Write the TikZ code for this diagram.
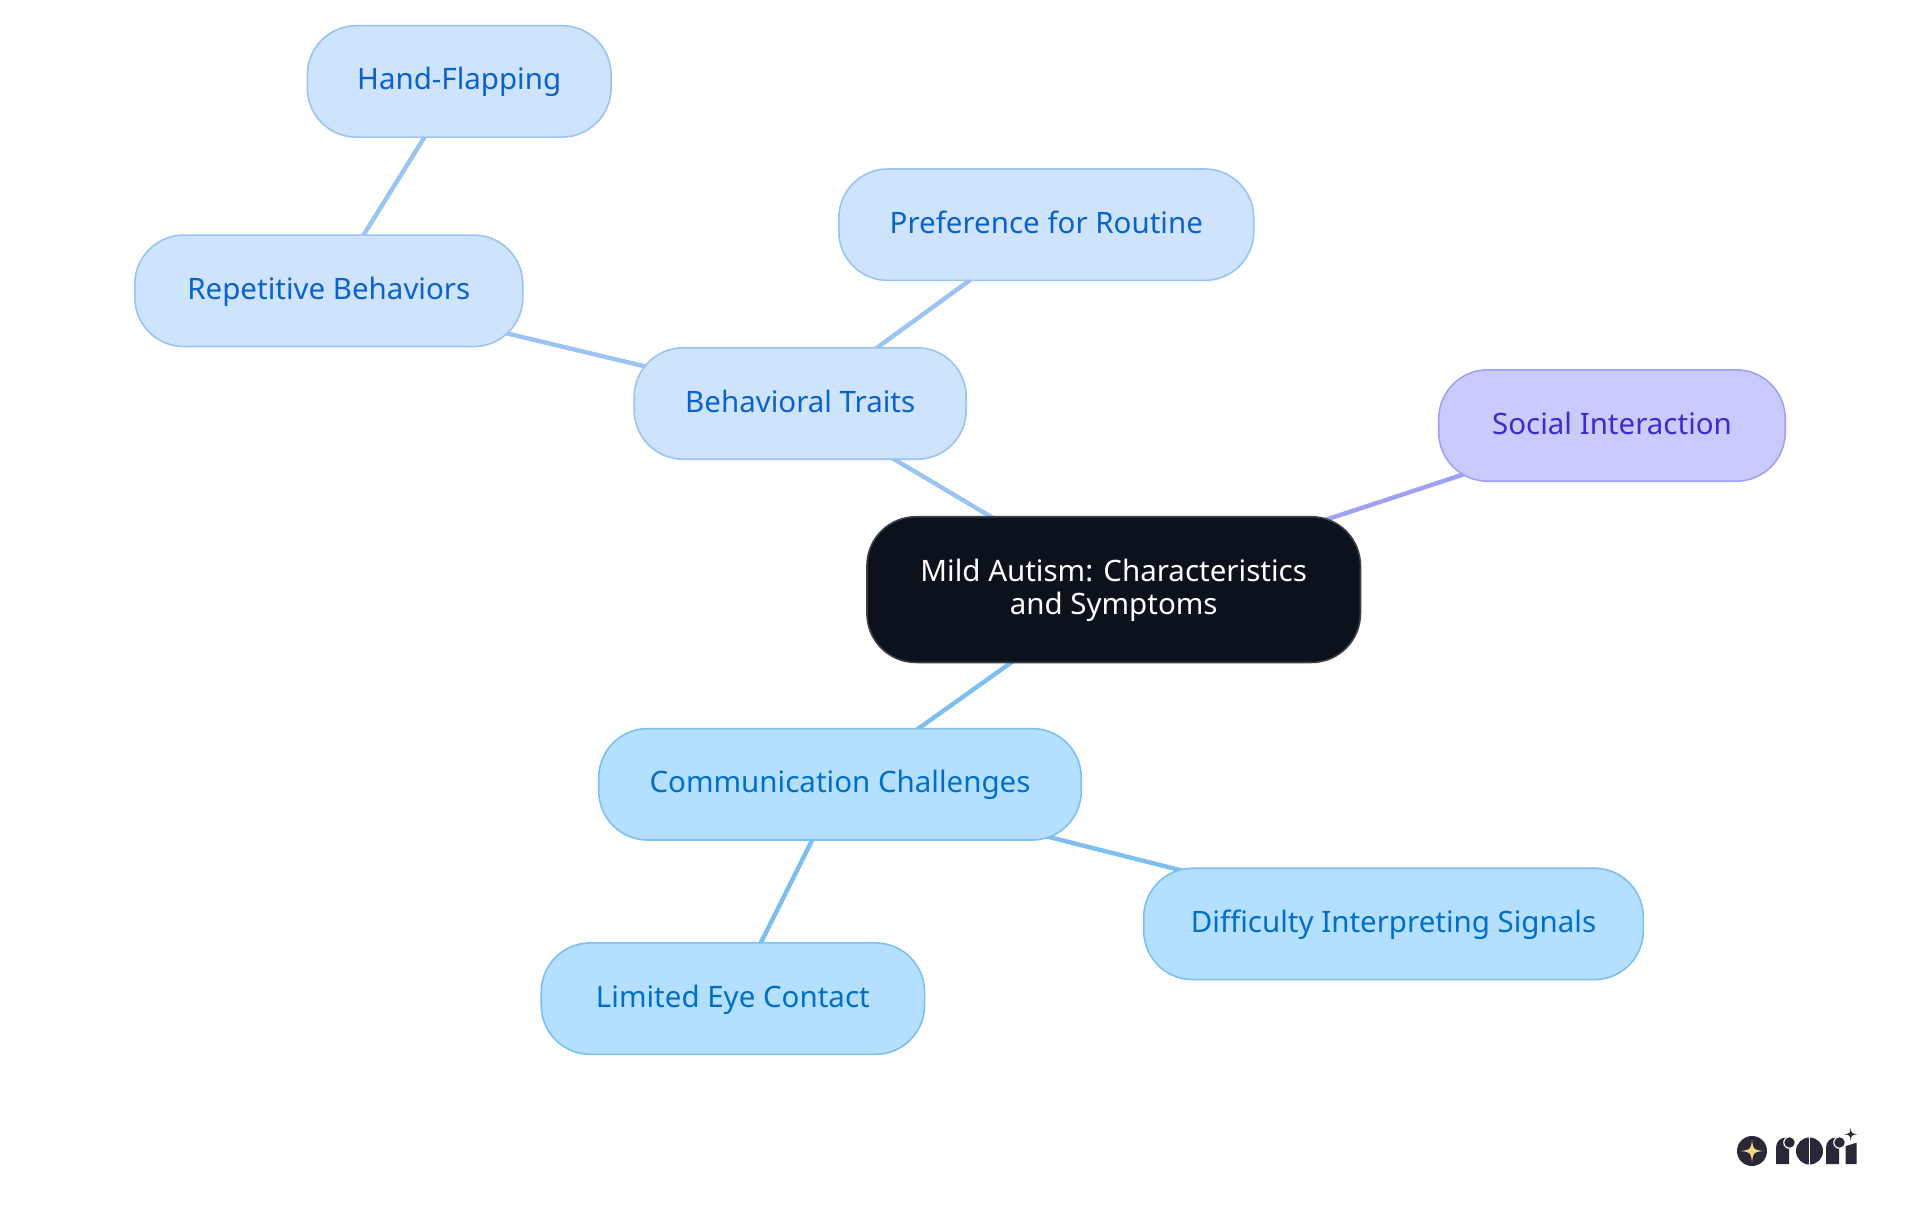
\documentclass[tikz,border=0pt]{standalone}
\usepackage{fontspec}
\setmainfont{Noto Sans}
\usetikzlibrary{backgrounds}
\definecolor{traitFill}{HTML}{CEE3FC}
\definecolor{traitLine}{HTML}{9AC4F2}
\definecolor{traitText}{HTML}{0B62CC}
\definecolor{talkFill}{HTML}{B5DFFE}
\definecolor{talkLine}{HTML}{7DBFF1}
\definecolor{talkText}{HTML}{006FC8}
\definecolor{socialFill}{HTML}{CBCAFE}
\definecolor{socialLine}{HTML}{A0A0F5}
\definecolor{socialText}{HTML}{3C2BD0}
\definecolor{rootFill}{HTML}{0B121B}
\definecolor{rootLine}{HTML}{3C4046}
\definecolor{logoDark}{HTML}{2A2838}
\definecolor{logoStar}{HTML}{F9D77E}
\newcommand{\sparkle}[4]{%
  \fill[#4] (#1,#2-#3) .. controls (#1+0.12*#3,#2-0.12*#3) .. (#1+#3,#2)
    .. controls (#1+0.12*#3,#2+0.12*#3) .. (#1,#2+#3)
    .. controls (#1-0.12*#3,#2+0.12*#3) .. (#1-#3,#2)
    .. controls (#1-0.12*#3,#2-0.12*#3) .. cycle;}
\newcommand{\logoletter}[1]{%
  \fill[logoDark] (#1,1164) -- (#1,1147.5) arc (180:270:10) -- (#1+13,1137.5) -- (#1+13,1164) -- cycle;
  \fill[white] (#1+13.5,1142.5) circle (6.3);
  \fill[logoDark] (#1+13.5,1142.5) circle (5.2);}
\begin{document}
\begin{tikzpicture}
[x=1pt,y=-1pt,
  nodeDecorate/.style={shape=rectangle,rounded corners=49pt,inner sep=0pt,line width=1.6pt,
    minimum height=111.4pt,font=\fontsize{29.5}{33}\selectfont,align=center},
  leafText/.style={text height=24pt,text depth=7pt},
  traitNode/.style={nodeDecorate,leafText,draw=traitLine,fill=traitFill,text=traitText},
  talkNode/.style={nodeDecorate,leafText,draw=talkLine,fill=talkFill,text=talkText},
  socialNode/.style={nodeDecorate,leafText,draw=socialLine,fill=socialFill,text=socialText},
  rootNode/.style={nodeDecorate,draw=rootLine,fill=rootFill,text=white,minimum height=145.7pt},
  lineDecorate/.style={line width=4.4pt}]
\useasboundingbox (0,0) rectangle (1920,1215);
%% nodes or vertices
\node (root) at (1113.7,589.6) [rootNode,minimum width=493.5pt] {\rule{0pt}{24pt}Mild Autism: Characteristics\\and Symptoms};
\foreach \nodename/\x/\y/\w/\kind/\words in {
  hand/459.2/81.4/303.7/traitNode/Hand-Flapping,
  repetitive/328.8/290.8/388/traitNode/Repetitive Behaviors,
  routine/1046.3/224.7/415/traitNode/Preference for Routine,
  behavioral/800.2/403.5/332/traitNode/Behavioral Traits,
  social/1612/425.5/346.5/socialNode/Social Interaction,
  communication/840/784.3/482.5/talkNode/Communication Challenges,
  signals/1393.5/923.9/499.6/talkNode/Difficulty Interpreting Signals,
  eye/732.9/998.6/383.3/talkNode/Limited Eye Contact}
{
  \node (\nodename) at (\x,\y) [\kind,minimum width=\w pt] {\words};
}
%% edges or lines
\begin{scope}[on background layer]
\foreach \startnode/\endnode/\shade in {
  root/behavioral/traitLine, behavioral/routine/traitLine,
  behavioral/repetitive/traitLine, repetitive/hand/traitLine,
  root/social/socialLine, root/communication/talkLine,
  communication/signals/talkLine, communication/eye/talkLine}
{
  \draw[lineDecorate,\shade] (\startnode.center) -- (\endnode.center);
}
\end{scope}
%% logo
\fill[logoDark] (1752,1151) circle (15);
\sparkle{1752}{1151}{11}{logoStar}
\logoletter{1776}
\fill[logoDark] (1809.5,1151) circle (13.5);
\fill[white] (1808.8,1136) rectangle (1810.2,1166);
\logoletter{1826}
\fill[logoDark] (1845.7,1146) -- (1856.7,1142.7) -- (1856.7,1164) -- (1845.7,1164) -- cycle;
\sparkle{1850.7}{1134.3}{6.5}{logoDark}
\end{tikzpicture}
\end{document}
